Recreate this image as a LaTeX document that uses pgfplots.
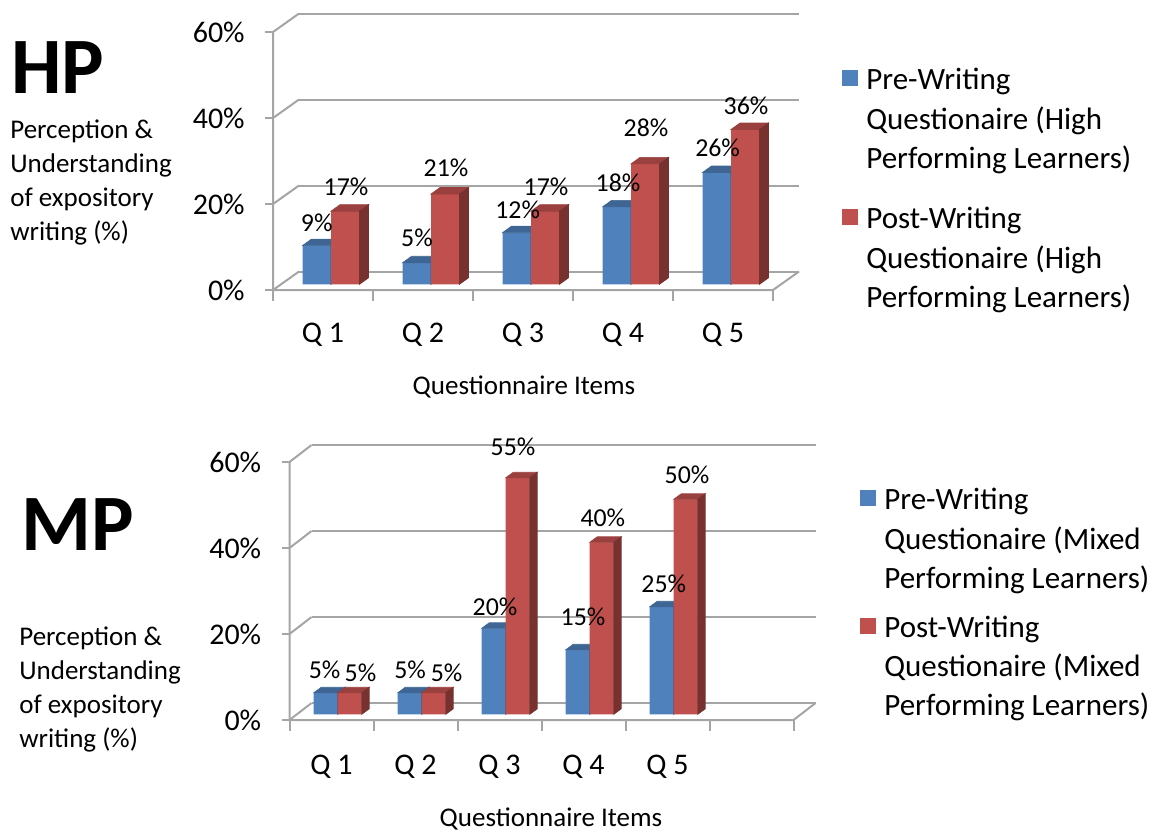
\documentclass[border=0pt]{standalone}
\usepackage{fontspec}
\setmainfont{Carlito}
\usepackage{pgfplots}
\usepackage{pgfplotstable}
\pgfplotsset{compat=1.18}

\definecolor{bF}{HTML}{4F81BD}
\definecolor{rF}{HTML}{C0504D}
\colorlet{bT}{bF!78!black}
\colorlet{bS}{bF!60!black}
\colorlet{rT}{rF!80!black}
\colorlet{rS}{rF!62!black}
\definecolor{gridc}{HTML}{A5A5A5}

\newcommand\fTick{\fontsize{18}{21}\selectfont}
\newcommand\fLab{\fontsize{15.5}{18}\selectfont}
\newcommand\fLeg{\fontsize{18.6}{22}\selectfont}
\newcommand\fPar{\fontsize{16.2}{19}\selectfont}
\newcommand\fBig{\fontsize{48}{50}\selectfont\bfseries}

\pgfdeclareplotmark{nothing}{}
\tikzset{frame/.style={draw=gridc, line width=1.2pt}}

% HP: High performing learners
\pgfplotstableread{
x pre post
0 9 17
1 5 21
2 12 17
3 18 28
4 26 36
}\hpdata
% MP: Mixed performing learners
\pgfplotstableread{
x pre post
0 5 5
1 5 5
2 20 55
3 15 40
4 25 50
}\mpdata
% data label positions (label centre, axis units)
\pgfplotstableread{
x y v
-0.1425 14.4 9
0.15 22.6 17
0.86 10.8 5
1.15 27.0 21
1.867 17.3 12
2.15 22.6 17
2.87 23.6 18
3.15 36.3 28
3.866 31.7 26
4.15 41.6 36
}\hplab
\pgfplotstableread{
x y v
-0.156 10.3 5
0.271 9.6 5
0.861 10.3 5
1.296 9.6 5
1.873 25.0 20
2.087 62.2 55
2.92 22.6 15
3.156 45.6 40
3.882 30.3 25
4.158 55.6 50
}\mplab

\pgfplotsset{
  chart3d/.style={
    clip=false,
    clip marker paths=true,
    axis line style={draw=none},
    major tick length=0pt,
    tick style={draw=none},
    yticklabel style={anchor=east, inner sep=0pt, xshift=-16.8pt, font=\fTick},
    xticklabel style={anchor=base, inner sep=0pt, font=\fTick},
    ytick={-1.326,18.674,38.674,58.674},
    yticklabels={0\%,20\%,40\%,60\%},
    xticklabels={Q 1,Q 2,Q 3,Q 4,Q 5},
  },
  front/.style={ybar, bar shift=0pt, draw=none, fill=#1},
  % #1 column, #2 half width, #3 depth dx, #4 depth dy, #5 top colour, #6 side colour
  faces/.style n args={6}{
    scatter, only marks, mark=nothing,
    visualization depends on={\thisrow{#1}\as\val},
    scatter/@pre marker code/.code={%
      \pgfmathsetmacro\barH{\val*2.58}%
      \fill[#5] (-#2,0pt) -- (#2,0pt) -- (#2+#3,#4) -- (-#2+#3,#4) -- cycle;
      \fill[#6] (#2,0pt) -- (#2+#3,#4) -- (#2+#3,#4-\barH pt) -- (#2,-\barH pt) -- cycle;
    },
    scatter/@post marker code/.code={},
  },
  labels/.style={
    scatter, only marks, mark=nothing,
    visualization depends on={\thisrow{v}\as\lab},
    scatter/@pre marker code/.code={%
      \node[anchor=center, inner sep=0pt, font=\fLab, text=black] at (0pt,0pt)
        {\pgfmathprintnumber[assume math mode=true,fixed,precision=0]{\lab}\%};
    },
    scatter/@post marker code/.code={},
  },
}

\begin{document}
\begin{tikzpicture}
\useasboundingbox (0pt,0pt) rectangle (695.4pt,-498.6pt);
\begin{scope}[x=0.6pt,y=-0.6pt]
  % ---- HP side text
  \node[anchor=base west, inner sep=0pt, font=\fBig] at (11,93) {HP};
  \node[anchor=base west, inner sep=0pt, font=\fPar] at (10,138) {Perception \&};
  \node[anchor=base west, inner sep=0pt, font=\fPar] at (10,172) {Understanding};
  \node[anchor=base west, inner sep=0pt, font=\fPar] at (10,206) {of expository};
  \node[anchor=base west, inner sep=0pt, font=\fPar] at (10,240) {writing (\%)};
  % ---- MP side text
  \node[anchor=base west, inner sep=0pt, font=\fBig] at (21,550) {MP};
  \node[anchor=base west, inner sep=0pt, font=\fPar] at (19,645) {Perception \&};
  \node[anchor=base west, inner sep=0pt, font=\fPar] at (19,679) {Understanding};
  \node[anchor=base west, inner sep=0pt, font=\fPar] at (19,713) {of expository};
  \node[anchor=base west, inner sep=0pt, font=\fPar] at (19,747) {writing (\%)};
  % ---- axis titles
  \node[anchor=base, inner sep=0pt, font=\fPar] at (524,394) {Questionnaire Items};
  \node[anchor=base, inner sep=0pt, font=\fPar] at (551,826) {Questionnaire Items};
  % ---- HP legend
  \fill[bF] (842,70) rectangle (858,86);
  \node[anchor=base west, inner sep=0pt, font=\fLeg] at (866,89) {Pre-Writing};
  \node[anchor=base west, inner sep=0pt, font=\fLeg] at (866,129) {Questionaire (High};
  \node[anchor=base west, inner sep=0pt, font=\fLeg] at (866,168) {Performing Learners)};
  \fill[rF] (842,209) rectangle (858,225);
  \node[anchor=base west, inner sep=0pt, font=\fLeg] at (866,228) {Post-Writing};
  \node[anchor=base west, inner sep=0pt, font=\fLeg] at (866,268) {Questionaire (High};
  \node[anchor=base west, inner sep=0pt, font=\fLeg] at (866,307) {Performing Learners)};
  % ---- MP legend
  \fill[bF] (860,490) rectangle (876,506);
  \node[anchor=base west, inner sep=0pt, font=\fLeg] at (884,509) {Pre-Writing};
  \node[anchor=base west, inner sep=0pt, font=\fLeg] at (884,549) {Questionaire (Mixed};
  \node[anchor=base west, inner sep=0pt, font=\fLeg] at (884,588) {Performing Learners)};
  \fill[rF] (860,618) rectangle (876,634);
  \node[anchor=base west, inner sep=0pt, font=\fLeg] at (884,637) {Post-Writing};
  \node[anchor=base west, inner sep=0pt, font=\fLeg] at (884,676) {Questionaire (Mixed};
  \node[anchor=base west, inner sep=0pt, font=\fLeg] at (884,715) {Performing Learners)};
\end{scope}

% ================= HP chart =================
\begin{axis}[chart3d,
  at={(163.8pt,-174pt)}, anchor=south west,
  x=60pt, y=2.58pt,
  xmin=-0.58, xmax=4.42, ymin=-1.326, ymax=58.674,
  xtick={-0.08,0.92,1.92,2.92,3.92},
  xticklabel style={yshift=-31.2pt},
]
  % back wall gridlines
  \draw[frame] (axis cs:-0.32,2.974) -- (axis cs:4.68,2.974);
  \draw[frame] (axis cs:-0.32,22.974) -- (axis cs:4.68,22.974);
  \draw[frame] (axis cs:-0.32,42.974) -- (axis cs:4.68,42.974);
  \draw[frame] (axis cs:-0.32,62.974) -- (axis cs:4.68,62.974);
  % side wall diagonals
  \draw[frame] (axis cs:-0.58,-1.326) -- (axis cs:-0.32,2.974);
  \draw[frame] (axis cs:-0.58,18.674) -- (axis cs:-0.32,22.974);
  \draw[frame] (axis cs:-0.58,38.674) -- (axis cs:-0.32,42.974);
  \draw[frame] (axis cs:-0.58,58.674) -- (axis cs:-0.32,62.974);
  % floor front + right edge, front vertical axis
  \draw[frame] (axis cs:-0.58,58.674) -- (axis cs:-0.58,-1.326) -- (axis cs:4.42,-1.326) -- (axis cs:4.68,2.974);
  % tick marks
  \draw[frame] (axis cs:-0.58,-1.326) -- ++(-4.8pt,0pt);
  \draw[frame] (axis cs:-0.58,18.674) -- ++(-4.8pt,0pt);
  \draw[frame] (axis cs:-0.58,38.674) -- ++(-4.8pt,0pt);
  \draw[frame] (axis cs:-0.58,58.674) -- ++(-4.8pt,0pt);
  \draw[frame] (axis cs:-0.58,-1.326) -- ++(0pt,-6.6pt);
  \draw[frame] (axis cs:0.42,-1.326) -- ++(0pt,-6.6pt);
  \draw[frame] (axis cs:1.42,-1.326) -- ++(0pt,-6.6pt);
  \draw[frame] (axis cs:2.42,-1.326) -- ++(0pt,-6.6pt);
  \draw[frame] (axis cs:3.42,-1.326) -- ++(0pt,-6.6pt);
  \draw[frame] (axis cs:4.42,-1.326) -- ++(0pt,-6.6pt);
  % bars
  \addplot[front=bF, bar width=0.285] table[x expr=\thisrow{x}-0.1425, y=pre] {\hpdata};
  \addplot[faces={pre}{8.55pt}{5.4pt}{3.9pt}{bT}{bS}] table[x expr=\thisrow{x}-0.1425, y=pre] {\hpdata};
  \addplot[front=rF, bar width=0.285] table[x expr=\thisrow{x}+0.1425, y=post] {\hpdata};
  \addplot[faces={post}{8.55pt}{5.4pt}{3.9pt}{rT}{rS}] table[x expr=\thisrow{x}+0.1425, y=post] {\hpdata};
  % data labels
  \addplot[labels] table[x=x, y=y] {\hplab};
\end{axis}

% ================= MP chart =================
\begin{axis}[chart3d,
  at={(173.7pt,-432pt)}, anchor=south west,
  x=50.4pt, y=2.58pt,
  xmin=-0.574, xmax=5.426, ymin=-1.326, ymax=58.674,
  xtick={-0.074,0.926,1.926,2.926,3.926},
  xticklabel style={yshift=-32.4pt},
]
  \draw[frame] (axis cs:-0.312,2.624) -- (axis cs:5.688,2.624);
  \draw[frame] (axis cs:-0.312,22.624) -- (axis cs:5.688,22.624);
  \draw[frame] (axis cs:-0.312,42.624) -- (axis cs:5.688,42.624);
  \draw[frame] (axis cs:-0.312,62.624) -- (axis cs:5.688,62.624);
  \draw[frame] (axis cs:-0.574,-1.326) -- (axis cs:-0.312,2.624);
  \draw[frame] (axis cs:-0.574,18.674) -- (axis cs:-0.312,22.624);
  \draw[frame] (axis cs:-0.574,38.674) -- (axis cs:-0.312,42.624);
  \draw[frame] (axis cs:-0.574,58.674) -- (axis cs:-0.312,62.624);
  \draw[frame] (axis cs:-0.574,58.674) -- (axis cs:-0.574,-1.326) -- (axis cs:5.426,-1.326) -- (axis cs:5.688,2.624);
  \draw[frame] (axis cs:-0.574,-1.326) -- ++(-4.8pt,0pt);
  \draw[frame] (axis cs:-0.574,18.674) -- ++(-4.8pt,0pt);
  \draw[frame] (axis cs:-0.574,38.674) -- ++(-4.8pt,0pt);
  \draw[frame] (axis cs:-0.574,58.674) -- ++(-4.8pt,0pt);
  \draw[frame] (axis cs:-0.574,-1.326) -- ++(0pt,-6.6pt);
  \draw[frame] (axis cs:0.426,-1.326) -- ++(0pt,-6.6pt);
  \draw[frame] (axis cs:1.426,-1.326) -- ++(0pt,-6.6pt);
  \draw[frame] (axis cs:2.426,-1.326) -- ++(0pt,-6.6pt);
  \draw[frame] (axis cs:3.426,-1.326) -- ++(0pt,-6.6pt);
  \draw[frame] (axis cs:4.426,-1.326) -- ++(0pt,-6.6pt);
  \draw[frame] (axis cs:5.426,-1.326) -- ++(0pt,-6.6pt);
  \addplot[front=bF, bar width=0.286] table[x expr=\thisrow{x}-0.143, y=pre] {\mpdata};
  \addplot[faces={pre}{7.2pt}{4.5pt}{3.3pt}{bT}{bS}] table[x expr=\thisrow{x}-0.143, y=pre] {\mpdata};
  \addplot[front=rF, bar width=0.286] table[x expr=\thisrow{x}+0.143, y=post] {\mpdata};
  \addplot[faces={post}{7.2pt}{4.5pt}{3.3pt}{rT}{rS}] table[x expr=\thisrow{x}+0.143, y=post] {\mpdata};
  \addplot[labels] table[x=x, y=y] {\mplab};
\end{axis}
\end{tikzpicture}
\end{document}
